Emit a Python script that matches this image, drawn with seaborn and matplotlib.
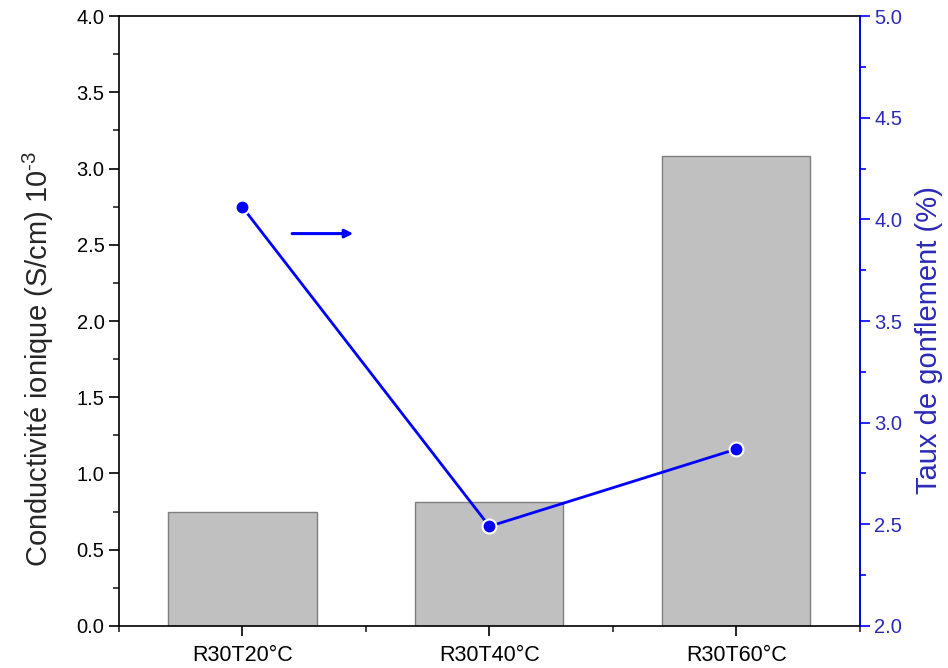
import matplotlib
matplotlib.use("Agg")
import matplotlib.pyplot as plt
import seaborn as sns
import pandas as pd
import numpy as np
from matplotlib.ticker import MultipleLocator, FixedLocator, FormatStrFormatter

categories = ["R30T20°C", "R30T40°C", "R30T60°C"]
conductivity = [0.75, 0.81, 3.08]
swelling = [4.06, 2.49, 2.87]

sns.set_theme(style="ticks")
plt.rcParams['font.family'] = ['Liberation Sans', 'DejaVu Sans']
plt.rcParams['mathtext.fontset'] = 'custom'
plt.rcParams['mathtext.rm'] = 'Liberation Sans'
plt.rcParams['mathtext.it'] = 'Liberation Sans'
plt.rcParams['mathtext.default'] = 'regular'

df = pd.DataFrame({"cat": categories, "cond": conductivity, "swell": swelling})

fig = plt.figure(figsize=(9.48, 6.68), dpi=100)
ax = fig.add_axes([0.1255, 0.0629, 0.907 - 0.1255, 0.976 - 0.0629])

sns.barplot(data=df, x="cat", y="cond", ax=ax, color="#c0c0c0", width=0.6,
            edgecolor="#7f7f7f", linewidth=1.0, saturation=1)
ax.set_xlim(-0.5, 2.5)
ax.set_ylim(0, 4.0)
ax.yaxis.set_major_locator(MultipleLocator(0.5))
ax.yaxis.set_minor_locator(MultipleLocator(0.25))
ax.yaxis.set_major_formatter(FormatStrFormatter("%.1f"))
ax.xaxis.set_minor_locator(FixedLocator([-0.5, 0.5, 1.5, 2.5]))
ax.set_xlabel("")
ax.set_ylabel("Conductivité ionique (S/cm) 10$^{\\text{-}3}$", fontsize=21, labelpad=15)
ax.yaxis.label.set_y(0.438)
ax.tick_params(axis="both", which="major", direction="out", length=7, width=1.2,
               labelsize=14.5, colors="black")
ax.tick_params(axis="both", which="minor", direction="out", length=4, width=1.2)
ax.tick_params(axis="x", which="major", pad=7, labelsize=15.5)
for s in ax.spines.values():
    s.set_linewidth(1.2)
    s.set_color("black")

ax2 = ax.twinx()
sns.lineplot(data=df, x="cat", y="swell", ax=ax2, color="#0000ff", linewidth=2,
             marker="o", markersize=10, markeredgecolor="white", markeredgewidth=1.5,
             sort=False)
ax2.set_ylim(2.0, 5.0)
ax2.set_xlim(-0.5, 2.5)
ax2.yaxis.set_major_locator(MultipleLocator(0.5))
ax2.yaxis.set_minor_locator(MultipleLocator(0.25))
ax2.yaxis.set_major_formatter(FormatStrFormatter("%.1f"))
ax2.set_ylabel("Taux de gonflement (%)", fontsize=21, color="#2a2ab8", labelpad=9)
ax2.yaxis.label.set_y(0.469)
ax2.set_xlabel("")
ax2.tick_params(axis="y", which="major", direction="out", length=7, width=1.2,
                labelsize=14.5, colors="#0000ff", labelcolor="#2a2ab8")
ax2.tick_params(axis="y", which="minor", direction="out", length=4, width=1.2,
                colors="#0000ff")
ax2.spines["right"].set_color("#0000ff")
ax2.spines["right"].set_linewidth(1.2)
for k in ["left", "top", "bottom"]:
    ax2.spines[k].set_visible(False)

ax2.annotate("", xy=(0.46, 3.93), xytext=(0.19, 3.93),
             arrowprops=dict(arrowstyle="-|>", color="#0000ff", lw=2.2,
                             mutation_scale=12))

fig.savefig("out.png", dpi=100)
